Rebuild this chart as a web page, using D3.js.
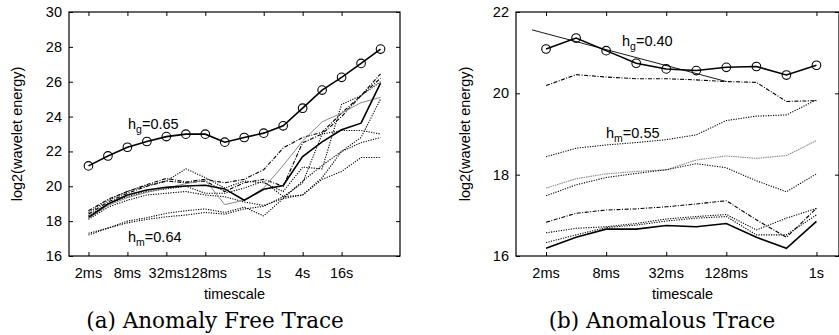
<!DOCTYPE html>
<html>
<head>
<meta charset="utf-8">
<script src="https://cdn.jsdelivr.net/npm/d3@7/dist/d3.min.js"></script>
<style>
  body { margin: 0; background: #fff; }
  svg text { font-family: "Liberation Sans", Arial, sans-serif; fill: #000; }
  .caption { font-family: "DejaVu Serif", "Liberation Serif", serif; }
</style>
</head>
<body>
<div id="chart"></div>
<script>
// timescales in ms (log2 spaced)
const leftTimes = [2, 4, 8, 16, 32, 64, 128, 256, 512, 1024, 2048, 4096, 8192, 16384, 32768, 65536]
const rightTimes = [2, 4, 8, 16, 32, 64, 128, 256, 512, 1024]

const leftTicks = [2, 8, 32, 128, 1024, 4096, 16384]
const leftTickLabels = ["2ms", "8ms", "32ms", "128ms", "1s", "4s", "16s"]
const rightTicks = [2, 8, 32, 128, 1024]
const rightTickLabels = ["2ms", "8ms", "32ms", "128ms", "1s"]

// (a) anomaly free trace
const leftGlobal = [21.17, 21.74, 22.24, 22.57, 22.85, 22.99, 22.99, 22.53, 22.8, 23.05, 23.47, 24.48, 25.52, 26.25, 27.05, 27.87]
const leftSolid = [18.22, 18.98, 19.5, 19.79, 19.94, 20.02, 20.06, 19.85, 19.2, 19.83, 20.05, 21.7, 22.55, 23.24, 23.62, 25.92]
const leftGray = [18.15, 18.9, 19.35, 19.65, 19.9, 20.15, 20.35, 18.95, 19.2, 19.9, 21.2, 22.6, 23.7, 24.2, 24.8, 25.1]
const leftDashDot1 = [18.6, 19.25, 19.7, 20.1, 20.45, 20.25, 20.4, 20.2, 20.4, 20.95, 22.2, 22.8, 23.1, 24.2, 25.2, 26.45]
const leftDot1 = [18.5, 19.2, 19.7, 20.05, 20.3, 21.0, 20.5, 19.9, 20.3, 20.2, 19.7, 21.1, 21.0, 24.7, 25.2, 26.0]
const leftDashDot2 = [18.4, 19.1, 19.6, 20.0, 20.3, 20.2, 20.3, 19.7, 20.2, 20.4, 20.0, 22.5, 23.0, 24.0, 25.2, 26.2]
const leftDot2 = [18.3, 19.0, 19.4, 19.7, 19.85, 20.0, 19.6, 19.6, 19.9, 20.3, 19.4, 20.2, 23.0, 23.2, 23.2, 23.0]
const leftDot3 = [18.1, 18.8, 19.2, 19.5, 19.6, 19.7, 19.5, 19.4, 19.1, 18.9, 19.3, 19.5, 20.5, 22.0, 22.5, 22.8]
const leftDot4 = [17.3, 17.6, 18.0, 18.2, 18.45, 18.6, 18.7, 18.5, 18.8, 18.3, 19.3, 20.3, 21.2, 22.0, 22.8, 25.0]
const leftDot5 = [17.2, 17.6, 17.9, 18.1, 18.25, 18.35, 18.5, 18.4, 18.7, 18.85, 19.4, 19.5, 20.4, 20.85, 21.65, 21.65]

// (b) anomalous trace
const rightGlobal = [21.09, 21.36, 21.05, 20.74, 20.6, 20.56, 20.64, 20.66, 20.45, 20.69]
const rightFitX = [1.45, 128]
const rightFitY = [21.56, 20.29]
const rightDashDot1 = [20.19, 20.46, 20.4, 20.36, 20.36, 20.33, 20.29, 20.27, 19.8, 19.82]
const rightDot1 = [18.44, 18.65, 18.73, 18.79, 18.86, 18.98, 19.33, 19.44, 19.47, 19.84]
const rightGray = [17.67, 17.9, 18.02, 18.08, 18.12, 18.36, 18.46, 18.4, 18.47, 18.84]
const rightDot2 = [17.48, 17.75, 17.93, 18.03, 18.12, 18.27, 18.17, 17.85, 17.58, 18.02]
const rightDashDot2 = [16.83, 17.05, 17.13, 17.16, 17.21, 17.28, 17.36, 16.89, 16.46, 17.17]
const rightDot3 = [16.57, 16.68, 16.72, 16.8, 16.91, 16.97, 17.02, 16.64, 16.93, 17.17]
const rightDot4 = [16.33, 16.52, 16.7, 16.76, 16.86, 16.93, 16.97, 16.52, 16.52, 17.01]
const rightSolid = [16.19, 16.46, 16.66, 16.66, 16.75, 16.72, 16.8, 16.46, 16.19, 16.85]

const svg = d3.select("#chart").append("svg")
    .attr("width", 839)
    .attr("height", 335)

const DOT = "1.2,1.3"
const DASHDOT = "4,1.5,1,1.5"

function drawPanel(p) {
    const x = d3.scaleLog().base(2).domain(p.xDomain).range([p.left, p.right])
    const y = d3.scaleLinear().domain(p.yDomain).range([256, 12])
    const g = svg.append("g")

    const tickLen = 4
    const yTicks = d3.range(p.yDomain[0], p.yDomain[1] + 0.1, 2)

    // inward ticks on all four sides
    g.append("g").attr("transform", "translate(0,256)")
        .call(d3.axisTop(x).tickValues(p.ticks).tickSize(tickLen).tickFormat(""))
    g.append("g").attr("transform", "translate(0,12)")
        .call(d3.axisBottom(x).tickValues(p.ticks).tickSize(tickLen).tickFormat(""))
    g.append("g").attr("transform", `translate(${p.left},0)`)
        .call(d3.axisRight(y).tickValues(yTicks).tickSize(tickLen).tickFormat(""))
    g.append("g").attr("transform", `translate(${p.right},0)`)
        .call(d3.axisLeft(y).tickValues(yTicks).tickSize(tickLen).tickFormat(""))
    g.selectAll(".domain").remove()
    g.selectAll(".tick line").attr("stroke", "#000")

    g.append("rect")
        .attr("x", p.left).attr("y", 12)
        .attr("width", p.right - p.left).attr("height", 244)
        .attr("fill", "none").attr("stroke", "#000").attr("stroke-width", 1.2)

    // tick labels
    g.selectAll(".xl").data(p.ticks).enter().append("text")
        .attr("x", d => x(d)).attr("y", 278)
        .attr("text-anchor", "middle").style("font-size", "14.5px")
        .text((d, i) => p.tickLabels[i])
    g.selectAll(".yl").data(yTicks).enter().append("text")
        .attr("x", p.left - 7).attr("y", d => y(d) + 5)
        .attr("text-anchor", "end").style("font-size", "14.5px")
        .text(d => d)

    g.append("text").attr("x", (p.left + p.right) / 2 + p.xTitleShift).attr("y", 299)
        .attr("text-anchor", "middle").style("font-size", "14.5px").text("timescale")
    g.append("text")
        .attr("transform", `translate(${p.yTitleX},134) rotate(-90)`)
        .attr("text-anchor", "middle").style("font-size", "14.5px")
        .text("log2(wavelet energy)")

    g.append("text").attr("class", "caption")
        .attr("x", p.captionX).attr("y", 328)
        .attr("text-anchor", "middle").style("font-size", "21.5px")
        .text(p.caption)

    const line = d3.line().x(d => x(d[0])).y(d => y(d[1]))

    p.series.forEach(s => {
        g.append("path")
            .attr("d", line(s.values.map((v, i) => [s.times[i], v])))
            .attr("fill", "none")
            .attr("stroke", s.color || "#000")
            .attr("stroke-width", s.width || 1.1)
            .attr("stroke-dasharray", s.dash || null)
    })

    // global estimate with circle markers
    g.append("path")
        .attr("d", line(p.global.map((v, i) => [p.times[i], v])))
        .attr("fill", "none").attr("stroke", "#000").attr("stroke-width", 1.6)
    g.selectAll(".pt").data(p.global).enter().append("circle")
        .attr("cx", (d, i) => x(p.times[i])).attr("cy", d => y(d))
        .attr("r", 4.3).attr("fill", "none").attr("stroke", "#000").attr("stroke-width", 1.1)

    p.labels.forEach(l => {
        const t = g.append("text").attr("x", l.x).attr("y", l.y).style("font-size", "14.5px")
        t.append("tspan").text("h")
        t.append("tspan").attr("dy", 4).style("font-size", "10.5px").text(l.sub)
        t.append("tspan").attr("dy", -4).text("=" + l.value)
    })
}

drawPanel({
    left: 69, right: 400,
    xDomain: [1, Math.pow(2, 17)],
    yDomain: [16, 30],
    ticks: leftTicks, tickLabels: leftTickLabels,
    times: leftTimes,
    global: leftGlobal,
    xTitleShift: 0,
    yTitleX: 22,
    captionX: 215,
    caption: "(a) Anomaly Free Trace",
    series: [
        { times: leftTimes, values: leftDot5, dash: DOT },
        { times: leftTimes, values: leftDot4, dash: DOT },
        { times: leftTimes, values: leftDot3, dash: DOT },
        { times: leftTimes, values: leftDot2, dash: DOT },
        { times: leftTimes, values: leftDashDot2, dash: DASHDOT },
        { times: leftTimes, values: leftDot1, dash: DOT },
        { times: leftTimes, values: leftDashDot1, dash: DASHDOT },
        { times: leftTimes, values: leftGray, color: "#8a8a8a", width: 1 },
        { times: leftTimes, values: leftSolid, width: 1.6 }
    ],
    labels: [
        { x: 128, y: 129, sub: "g", value: "0.65" },
        { x: 128, y: 242, sub: "m", value: "0.64" }
    ]
})

drawPanel({
    left: 516, right: 839,
    xDomain: [1, Math.pow(2, 10.75)],
    yDomain: [16, 22],
    ticks: rightTicks, tickLabels: rightTickLabels,
    times: rightTimes,
    global: rightGlobal,
    xTitleShift: 5,
    yTitleX: 470,
    captionX: 662,
    caption: "(b) Anomalous Trace",
    series: [
        { times: rightFitX, values: rightFitY, width: 0.9 },
        { times: rightTimes, values: rightDashDot1, dash: DASHDOT },
        { times: rightTimes, values: rightDot1, dash: DOT },
        { times: rightTimes, values: rightGray, color: "#8a8a8a", dash: "1.5,0.8" },
        { times: rightTimes, values: rightDot2, dash: DOT },
        { times: rightTimes, values: rightDashDot2, dash: DASHDOT },
        { times: rightTimes, values: rightDot3, dash: DOT },
        { times: rightTimes, values: rightDot4, dash: DOT },
        { times: rightTimes, values: rightSolid, width: 1.6 }
    ],
    labels: [
        { x: 622, y: 46, sub: "g", value: "0.40" },
        { x: 606, y: 138, sub: "m", value: "0.55" }
    ]
})
</script>
</body>
</html>
